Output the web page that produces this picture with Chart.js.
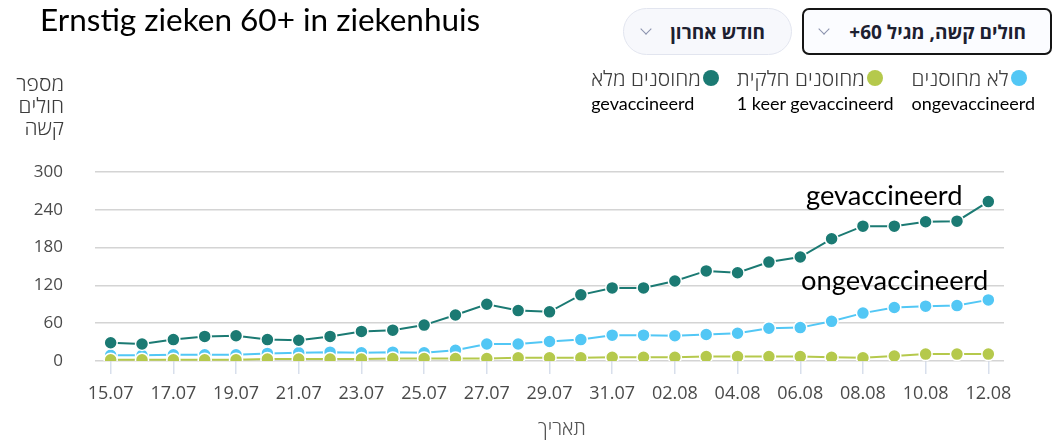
<!DOCTYPE html>
<html lang="nl">
<head>
<meta charset="UTF-8">
<title>Ernstig zieken 60+ in ziekenhuis</title>
<script src="https://cdn.jsdelivr.net/npm/chart.js"></script>
<style>
    body { margin: 0; background: #fff; font-family: "Open Sans", "DejaVu Sans", sans-serif; }
    #page { position: relative; width: 1057px; height: 445px; overflow: hidden; }
    #chart-wrap { position: absolute; left: 0; top: 0; width: 1057px; height: 445px; }
    .title { position: absolute; left: 40px; top: 0px; font-family: Lato, sans-serif; font-size: 31.5px; color: #000; white-space: nowrap; }
    .btn { position: absolute; top: 8px; height: 47px; box-sizing: border-box; display: flex; align-items: center;
           justify-content: space-between; font-weight: 700; font-size: 19px; color: #1d2030; direction: rtl; }
    .btn-main { left: 802px; width: 250px; border: 2px solid #151515; border-radius: 7px; background: #fbfcff; padding: 0 24px 0 16px; }
    .btn-month { left: 623px; width: 169px; border: 1px solid #e2e5ef; border-radius: 24px; background: #f7f8fc; padding: 0 26px 0 18px; }
    .chev { width: 7px; height: 7px; border-right: 1.5px solid #8a92ad; border-bottom: 1.5px solid #8a92ad; transform: rotate(45deg); margin-top: -5px; }
    #legend { position: absolute; top: 64px; right: 22px; display: flex; flex-direction: row-reverse; gap: 18px; }
    .item { display: flex; flex-direction: column; align-items: flex-start; }
    .item .he { display: flex; align-items: center; font-size: 21px; font-weight: 300; color: #3d3d3d; line-height: 28px; }
    .item .dot { width: 16px; height: 16px; border-radius: 50%; margin-left: 2px; }
    .item .nl { font-family: Lato, sans-serif; font-size: 18px; color: #000; line-height: 22px; }
    .ytitle { position: absolute; right: 993px; top: 72px; text-align: right; font-size: 21px; font-weight: 300; color: #3d3d3d; line-height: 22px; direction: rtl; }
    .xtitle { position: absolute; left: 538px; top: 414px; font-size: 20px; font-weight: 300; color: #555; direction: rtl; }
    .note { position: absolute; font-family: Lato, sans-serif; font-size: 27.3px; color: #000; white-space: nowrap; }
</style>
</head>
<body>
<div id="page">
    <div id="chart-wrap"><canvas id="sickChart"></canvas></div>

    <div class="title">Ernstig zieken 60+ in ziekenhuis</div>

    <div class="btn btn-main"><span>חולים קשה, מגיל 60+</span><span class="chev"></span></div>
    <div class="btn btn-month"><span>חודש אחרון</span><span class="chev"></span></div>

    <div id="legend"></div>

    <div class="ytitle">מספר<br>חולים<br>קשה</div>
    <div class="xtitle">תאריך</div>

    <div class="note" style="left: 806px; top: 178px;">gevaccineerd</div>
    <div class="note" style="left: 801px; top: 263px;">ongevaccineerd</div>
</div>

<script>
    // data (15.07 - 12.08)
    const dates = ['15.07', '16.07', '17.07', '18.07', '19.07', '20.07', '21.07', '22.07', '23.07', '24.07',
                   '25.07', '26.07', '27.07', '28.07', '29.07', '30.07', '31.07', '01.08', '02.08', '03.08',
                   '04.08', '05.08', '06.08', '07.08', '08.08', '09.08', '10.08', '11.08', '12.08'];
    const fullyVaccinated = [29, 27, 34, 39, 40, 34, 33, 39, 47, 49, 57, 73, 90, 80, 78, 105, 116, 116, 127, 143,
                             140, 157, 165, 194, 214, 214, 221, 222, 253];
    const partlyVaccinated = [2, 2, 2, 2, 2, 3, 3, 3, 3, 4, 4, 4, 4, 5, 5, 5, 6, 6, 6, 7,
                              7, 7, 7, 6, 5, 8, 11, 11, 11];
    const unvaccinated = [9, 9, 10, 10, 10, 12, 13, 14, 13, 14, 13, 17, 27, 27, 31, 34, 41, 41, 40, 42,
                          44, 52, 53, 63, 76, 85, 87, 88, 97];
    const yTicks = [0, 60, 120, 180, 240, 300];

    // legend order from right to left
    const seriesHe = ['לא מחוסנים', 'מחוסנים חלקית', 'מחוסנים מלא'];
    const seriesNl = ['ongevaccineerd', '1 keer gevaccineerd', 'gevaccineerd'];
    const seriesColors = ['#52c7f5', '#b5c94c', '#1b7a73'];

    const legend = document.getElementById('legend');
    seriesHe.forEach((name, i) => {
        const item = document.createElement('div');
        item.className = 'item';
        item.innerHTML = `<div class="he"><span dir="rtl">${name}</span><span class="dot" style="background:${seriesColors[i]}"></span></div>
                          <div class="nl">${seriesNl[i]}</div>`;
        legend.appendChild(item);
    });

    function makeSet(label, data, color) {
        return {
            label: label,
            data: data,
            borderColor: color,
            backgroundColor: color,
            borderWidth: 2,
            pointRadius: 6.5,
            pointBorderColor: '#ffffff',
            pointBorderWidth: 1.5,
            tension: 0
        };
    }

    const ctx = document.getElementById('sickChart').getContext('2d');
    new Chart(ctx, {
        type: 'line',
        data: {
            labels: dates,
            datasets: [
                makeSet(seriesHe[2], fullyVaccinated, seriesColors[2]),
                makeSet(seriesHe[1], partlyVaccinated, seriesColors[1]),
                makeSet(seriesHe[0], unvaccinated, seriesColors[0])
            ]
        },
        options: {
            responsive: true,
            maintainAspectRatio: false,
            animation: false,
            layout: { padding: { top: 172, right: 53, left: 0, bottom: 0 } },
            plugins: { legend: { display: false }, tooltip: { enabled: false } },
            scales: {
                x: {
                    offset: true,
                    afterFit: scale => { scale.height = 84; },
                    grid: { drawOnChartArea: false, tickLength: 13, color: '#d8dfec', lineWidth: 1.5 },
                    border: { display: false },
                    ticks: {
                        autoSkip: false,
                        maxRotation: 0,
                        padding: 9,
                        color: '#4a4a4a',
                        font: { family: 'Open Sans', size: 18 },
                        callback: (val, i) => (i % 2 === 0 ? dates[i] : null)
                    }
                },
                y: {
                    min: 0,
                    max: 300,
                    afterFit: scale => { scale.width = 95; },
                    afterBuildTicks: scale => { scale.ticks = yTicks.map(v => ({ value: v })); },
                    grid: { drawTicks: false, color: '#d4d4d4', lineWidth: 1.5 },
                    border: { display: false },
                    ticks: {
                        padding: 32,
                        color: '#4a4a4a',
                        font: { family: 'Open Sans', size: 17 }
                    }
                }
            }
        }
    });
</script>
</body>
</html>
